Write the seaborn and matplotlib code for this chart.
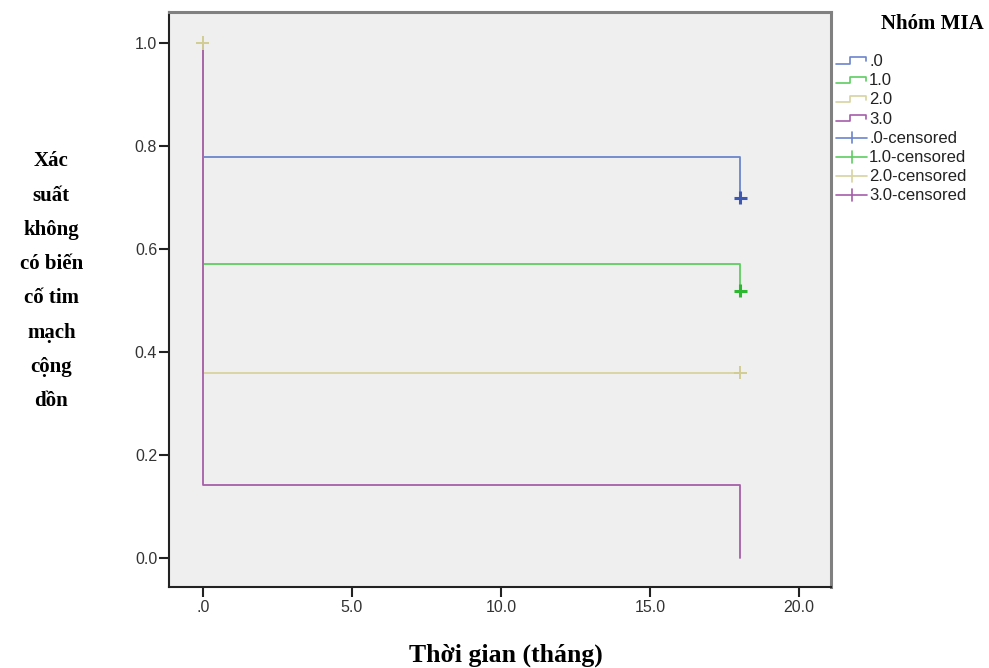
import numpy as np
import pandas as pd
import matplotlib
matplotlib.use('Agg')
import matplotlib.pyplot as plt
import seaborn as sns
from matplotlib.lines import Line2D
from matplotlib.legend_handler import HandlerBase

# Kaplan-Meier values
groups = ['.0', '1.0', '2.0', '3.0']
start_surv = [1.0, 1.0, 1.0, 1.0]
surv_after_0 = [0.778, 0.571, 0.360, 0.143]
last_time = [18.03, 18.03, 18.03, 18.03]
surv_last = [0.700, 0.519, 0.360, 0.0]

# censored marks (group, time, survival)
cens_group = ['.0', '1.0', '2.0', '2.0']
cens_time = [18.03, 18.03, 18.03, 0.0]
cens_surv = [0.700, 0.519, 0.360, 1.0]

line_colors = ['#6b84cc', '#5fcd62', '#d8d3a0', '#a65eaa']
mark_colors = ['#3d58b2', '#2cb82e', '#d2cc94', '#93489a']

x_ticks = [0, 5, 10, 15, 20]
x_ticklabels = ['.0', '5.0', '10.0', '15.0', '20.0']
y_ticks = [0.0, 0.2, 0.4, 0.6, 0.8, 1.0]

rows = []
for g, s0, s1, t, s2 in zip(groups, start_surv, surv_after_0, last_time, surv_last):
    for tt, ss in [(0.0, s0), (0.0, s1), (t, s1), (t, s2)]:
        rows.append({'time': tt, 'surv': ss, 'group': g})
df = pd.DataFrame(rows)
cens = pd.DataFrame({'time': cens_time, 'surv': cens_surv, 'group': cens_group})

sns.set_style('white')
fig = plt.figure(figsize=(9.89, 6.68), dpi=100)
ax = fig.add_axes([0.1709, 0.1213, 0.6694, 0.8612])
ax.set_facecolor('#efefef')

sns.lineplot(data=df, x='time', y='surv', hue='group', hue_order=groups,
             palette=dict(zip(groups, line_colors)), estimator=None, sort=False,
             linewidth=1.3, legend=False, ax=ax)
bold = cens['group'].isin(['.0', '1.0'])
sns.scatterplot(data=cens[bold], x='time', y='surv', hue='group', hue_order=groups,
                palette=dict(zip(groups, mark_colors)), marker='+', s=90,
                linewidth=2.2, legend=False, ax=ax, zorder=5)
sns.scatterplot(data=cens[~bold], x='time', y='surv', hue='group', hue_order=groups,
                palette=dict(zip(groups, mark_colors)), marker='+', s=90,
                linewidth=1.4, legend=False, ax=ax, zorder=5)

ax.set_xlim(-1.131, 21.07)
ax.set_ylim(-0.0557, 1.0607)
ax.set_xticks(x_ticks)
ax.set_xticklabels(x_ticklabels)
ax.set_yticks(y_ticks)
ax.set_yticklabels(['%.1f' % v for v in y_ticks])
ax.tick_params(axis='both', direction='out', length=7, width=1.5, color='#222222',
               labelsize=11.5, labelcolor='#333333')
ax.tick_params(axis='y', pad=1.5)
ax.tick_params(axis='x', pad=2.5)
for t in ax.get_xticklabels() + ax.get_yticklabels():
    t.set_family('Liberation Sans')
ax.tick_params(left=True, bottom=True)

for side in ['left', 'bottom']:
    ax.spines[side].set_color('#222222')
    ax.spines[side].set_linewidth(1.5)
for side in ['top', 'right']:
    ax.spines[side].set_color('#808080')
    ax.spines[side].set_linewidth(2.2)
ax.set_xlabel('')
ax.set_ylabel('')

fig.text(0.052, 0.579, 'Xác\nsuất\nkhông\ncó biến\ncố tim\nmạch\ncộng\ndồn',
         family='Liberation Serif', weight='bold', fontsize=15, color='black',
         ha='center', va='center', linespacing=1.95)
fig.text(0.511, 0.0195, 'Thời gian (tháng)', family='Liberation Serif',
         weight='bold', fontsize=18.5, color='black', ha='center', va='center')
fig.text(0.943, 0.964, 'Nhóm MIA', family='Liberation Serif',
         weight='bold', fontsize=15, color='black', ha='center', va='center')


class StepHandler(HandlerBase):
    def create_artists(self, legend, orig_handle, xdescent, ydescent,
                       width, height, fontsize, trans):
        x = np.array([0, 0.45, 0.45, 0.95, 0.95]) * width - xdescent
        y = np.array([0.2, 0.2, 0.75, 0.75, 0.4]) * height - ydescent
        ln = Line2D(x, y, color=orig_handle.get_color(), linewidth=1.2,
                    transform=trans)
        return [ln]


class CensHandler(HandlerBase):
    def create_artists(self, legend, orig_handle, xdescent, ydescent,
                       width, height, fontsize, trans):
        h = Line2D([-xdescent, width - xdescent], [0.45 * height - ydescent] * 2,
                   color=orig_handle.get_color(), linewidth=1.2, transform=trans)
        v = Line2D([0.5 * width - xdescent] * 2,
                   [-0.05 * height - ydescent, 0.95 * height - ydescent],
                   color=orig_handle.get_color(), linewidth=1.2, transform=trans)
        return [h, v]


step_handles = [Line2D([], [], color=c) for c in line_colors]
cens_handles = [Line2D([], [], color=c) for c in line_colors]
handler_map = {h: StepHandler() for h in step_handles}
handler_map.update({h: CensHandler() for h in cens_handles})
labels = groups + [g + '-censored' for g in ['.0', '1.0', '2.0', '3.0']]

leg = fig.legend(step_handles + cens_handles, labels, handler_map=handler_map,
                 loc='upper left', bbox_to_anchor=(0.845, 0.919), frameon=False,
                 prop={'family': 'Liberation Sans', 'size': 12},
                 handlelength=1.9, handletextpad=0.1, labelspacing=0.25,
                 borderpad=0, borderaxespad=0)
for txt in leg.get_texts():
    txt.set_color('#222222')

fig.savefig('out.png', dpi=100)
